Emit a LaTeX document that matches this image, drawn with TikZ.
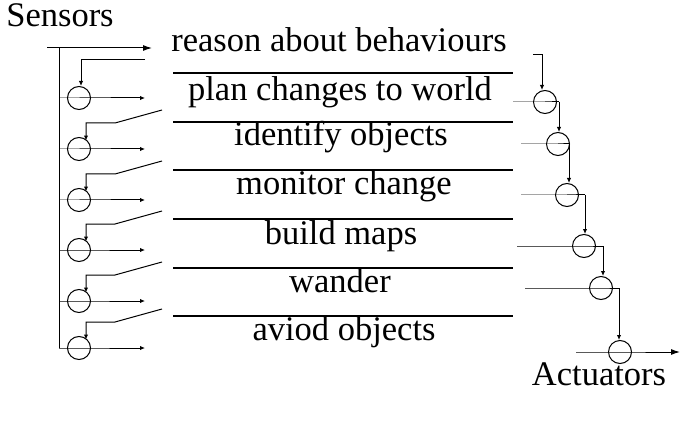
\documentclass[tikz,border=0pt]{standalone}
\usepackage{fontspec}
\setmainfont{Liberation Serif}
\usetikzlibrary{arrows.meta,calc}

\begin{document}
\begin{tikzpicture}[x=1pt,y=-1pt,line width=1pt]
  \tikzset{junction/.style={circle,
      draw,
      inner sep=0pt,
      minimum size=23pt},
    layer/.style={anchor=base,
      font=\fontsize{34.5}{40}\selectfont},
    feed/.style={-{Latex[length=5pt,width=4.5pt]}},
    flow/.style={-{Latex[length=9pt,width=6pt]}}
  }
  \useasboundingbox (0,0) rectangle (692,438);
  % labels
  \node [layer] (sensors) at (60,27) {Sensors};
  \node [layer] (actuators) at (599,385) {Actuators};
  \node [layer] (reason) at (339,52) {reason about behaviours};
  \node [layer] (plan) at (340,101) {plan changes to world};
  \node [layer] (identify) at (341,146) {identify objects};
  \node [layer] (monitor) at (344,195) {monitor change};
  \node [layer] (maps) at (341,244) {build maps};
  \node [layer] (wander) at (340,292) {wander};
  \node [layer] (avoid) at (344,340) {aviod objects};
  % separators
  \foreach \y in {73,122,170,219,268,316}
    \draw [line width=1.3pt] (173,\y)--(513,\y);

  % sensor side
  \coordinate (in) at (47,48);
  \coordinate (reason in) at (152,48);
  \coordinate (bus) at (59,48);
  \coordinate (bus end) at (59,348);
  \draw [flow] (in)--(reason in);
  \draw (bus)--(bus end);
  \foreach \n/\y in {1/98,2/149,3/200,4/250,5/301,6/348} {
    \node [junction] (l\n) at (79,\y) {};
    \coordinate (s\n) at (59,\y);
    \coordinate (e\n) at (145,\y);
    \draw [feed] (s\n)--(l\n.center)--(e\n);
  }
  \coordinate (t1) at (145,60);
  \coordinate (k1) at (81,60);
  \draw [feed] (t1)--(k1)--(k1 |- l1.north);
  \foreach \n/\y in {2/149,3/200,4/250,5/301,6/348} {
    \coordinate (t\n) at (162,\y-39);
    \coordinate (k\n) at (86,\y-26);
    \draw [feed] (t\n)--(115,\y-26)--(k\n)--(k\n |- l\n.north east);
  }

  % actuator side
  \foreach \n/\x/\y/\a/\b in {1/545/102/513/559,2/558/144/521/569,
      3/567/195/521/585,4/584/246/517/603,5/601/288/525/619} {
    \node [junction] (r\n) at (\x,\y) {};
    \coordinate (a\n) at (\a,\y);
    \coordinate (b\n) at (\b,\y);
    \draw (a\n)--(r\n.center)--(b\n);
  }
  \node [junction] (r6) at (620,352) {};
  \coordinate (a6) at (576,352);
  \coordinate (out) at (680,352);
  \draw [flow] (a6)--(r6.center)--(out);
  \coordinate (f0) at (533,55);
  \coordinate (g0) at (542,55);
  \draw [feed] (f0)--(g0)--(g0 |- r1.north);
  \foreach \n [count=\m from 2] in {1,...,5}
    \draw [feed] (b\n)--(b\n |- r\m.north);
\end{tikzpicture}
\end{document}
